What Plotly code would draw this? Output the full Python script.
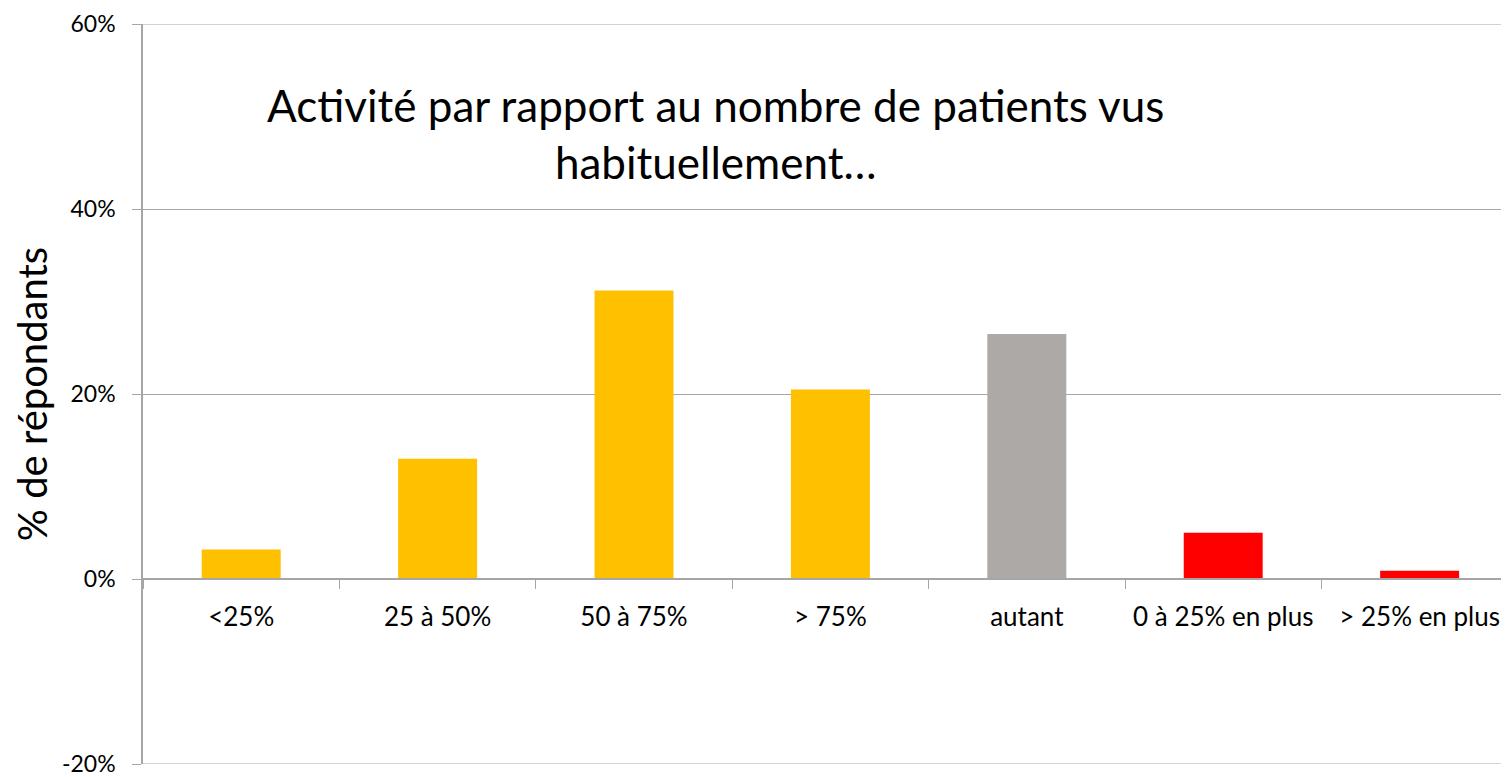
import plotly.graph_objects as go

# categories and survey shares (% of respondents)
categories = ["<25%", "25 à 50%", "50 à 75%", "> 75%", "autant",
              "0 à 25% en plus", "> 25% en plus"]
values = [3.2, 13.0, 31.2, 20.5, 26.5, 5.0, 0.9]
bar_colors = ["#FFC000", "#FFC000", "#FFC000", "#FFC000", "#ADA9A7",
              "#FF0000", "#FF0000"]

y_ticks = [-20, 0, 20, 40, 60]
y_tick_labels = ["-20%", "0%", "20%", "40%", "60%"]

font_family = "Lato, 'Open Sans', sans-serif"
line_grey = "#A6A6A6"

fig = go.Figure(go.Bar(
    x=categories,
    y=values,
    marker=dict(color=bar_colors, line=dict(width=0)),
    width=0.402,
    hoverinfo="x+y",
))

# the page body adds an 8px margin, so the figure is trimmed by that much
fig.update_layout(
    width=1501,
    height=769,
    margin=dict(l=135, r=1, t=16, b=13),
    paper_bgcolor="white",
    plot_bgcolor="white",
    showlegend=False,
    font=dict(family=font_family, color="black"),
    xaxis=dict(
        type="category",
        range=[-0.5, 6.45],  # last category runs slightly past the edge
        anchor="free",
        position=0.25,  # y = 0 in a [-20, 60] range
        showline=True,
        linecolor=line_grey,
        linewidth=1.5,
        ticks="outside",
        tickson="boundaries",
        ticklen=9,
        tickcolor=line_grey,
        tickfont=dict(size=26),
        ticklabelstandoff=15,
        showgrid=False,
        zeroline=False,
    ),
    yaxis=dict(
        range=[-20, 60],
        tickvals=y_ticks,
        ticktext=y_tick_labels,
        showline=True,
        linecolor=line_grey,
        linewidth=1.5,
        ticks="outside",
        ticklen=9,
        tickcolor=line_grey,
        tickfont=dict(size=23),
        ticklabelstandoff=12,
        ticklabeloverflow="allow",
        showgrid=True,
        gridcolor=line_grey,
        gridwidth=1,
        zeroline=False,
        title=dict(text="% de répondants", font=dict(size=40), standoff=19),
    ),
)

# gridlines at the ends of the range (plotly skips them)
for yv in (y_ticks[0], y_ticks[-1]):
    fig.add_shape(type="line", xref="paper", yref="y", x0=0, x1=1,
                  y0=yv, y1=yv, line=dict(color=line_grey, width=1),
                  layer="below")

fig.add_annotation(
    text="Activité par rapport au nombre de patients vus<br>habituellement…",
    xref="paper", yref="paper",
    x=0.4195, y=0.852,
    xanchor="center", yanchor="middle",
    showarrow=False,
    font=dict(size=44),
    align="center",
)

fig.write_html("out.html")
